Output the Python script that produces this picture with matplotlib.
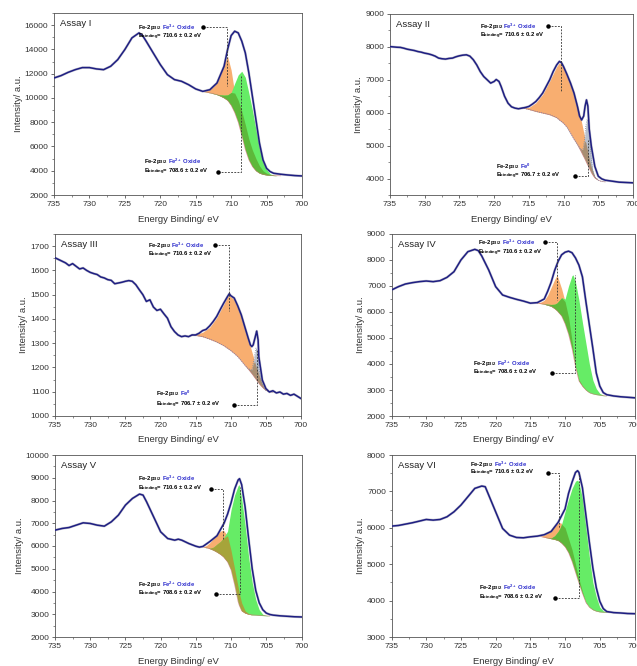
import numpy as np
import matplotlib.pyplot as plt
from matplotlib.ticker import AutoMinorLocator, MultipleLocator

plt.rcParams['font.family'] = ['Liberation Sans', 'DejaVu Sans']
plt.rcParams['mathtext.default'] = 'regular'

# ---------------- Assay I ----------------
a1_energy = [735, 734, 733, 732, 731, 730, 729, 728, 727, 726, 725, 724, 723, 722.5, 722, 721, 720,
             719, 718, 717, 716, 715, 714, 713, 712, 711, 710.5, 710, 709.5, 709, 708.5, 708, 707.5,
             707, 706.5, 706, 705.5, 705, 704.5, 704, 703, 702, 701, 700]
a1_counts = [11645, 11840, 12110, 12330, 12500, 12500, 12390, 12330, 12610, 13160, 13990, 14950, 15360,
             15140, 14680, 13710, 12750, 11920, 11510, 11370, 11090, 10740, 10540, 10680, 11230, 12610,
             13990, 15140, 15500, 15360, 14680, 13710, 12060, 10130, 8200, 6270, 4890, 4200, 3930, 3790,
             3710, 3650, 3600, 3570]
a1_fit_energy = [714, 713.5, 713, 712.5, 712, 711.5, 711, 710.5, 710, 709.5, 709, 708.5, 708, 707.5,
                 707, 706.5, 706, 705.5, 705, 704.5, 704, 703.5, 703]
a1_background = [10540, 10480, 10420, 10350, 10270, 10150, 10000, 9800, 9400, 8800, 8000, 6900, 5750,
                 4900, 4350, 4000, 3800, 3700, 3650, 3620, 3600, 3590, 3580]
a1_fe3 = [10540, 10600, 10720, 10950, 11300, 11900, 12800, 13430, 12300, 10400, 9800, 8900, 7800, 6600,
          5700, 5000, 4400, 4000, 3800, 3680, 3620, 3590, 3580]
a1_fe2 = [10540, 10490, 10430, 10370, 10300, 10250, 10230, 10250, 10450, 11200, 11900, 12200, 11700,
          10400, 9000, 7400, 5900, 4800, 4100, 3750, 3630, 3590, 3580]

# ---------------- Assay II ----------------
a2_energy = [735, 734.5, 734, 733.5, 733, 732.5, 732, 731.5, 731, 730.5, 730, 729.5, 729, 728.5, 728,
             727.5, 727, 726.5, 726, 725.5, 725, 724.5, 724, 723.5, 723, 722.5, 722, 721.5, 721, 720.5,
             720, 719.7, 719.3, 719, 718.5, 718, 717.5, 717, 716.5, 716, 715.5, 715, 714.5, 714, 713.5,
             713, 712.5, 712, 711.5, 711, 710.6, 710.3, 710, 709.5, 709, 708.5, 708, 707.7, 707.4,
             707.1, 706.9, 706.7, 706.5, 706.3, 706, 705.5, 705, 704.5, 704, 703, 702, 701, 700]
a2_counts = [8010, 8000, 7990, 7985, 7960, 7930, 7910, 7890, 7860, 7840, 7810, 7790, 7760, 7720, 7660,
             7640, 7630, 7650, 7660, 7700, 7730, 7750, 7760, 7720, 7610, 7450, 7250, 7100, 7000, 6900,
             6950, 7010, 6950, 6800, 6500, 6290, 6180, 6140, 6120, 6140, 6160, 6190, 6260, 6340, 6460,
             6600, 6800, 7000, 7250, 7450, 7560, 7520, 7400, 7160, 6900, 6600, 6190, 5900, 5780, 5900,
             6200, 6390, 6200, 5500, 4980, 4370, 4070, 3990, 3950, 3920, 3890, 3880, 3870]
a2_fit_energy = [716, 715, 714, 713, 712, 711, 710.6, 710, 709.5, 709, 708.5, 708, 707.5, 707.2, 707,
                 706.8, 706.6, 706.4, 706.2, 706, 705.8, 705.5, 705, 704.5, 704]
a2_background = [6150, 6100, 6040, 5990, 5940, 5850, 5780, 5680, 5560, 5380, 5200, 5030, 4830, 4700,
                 4620, 4530, 4440, 4360, 4270, 4180, 4110, 4020, 3950, 3910, 3900]
a2_fe3 = [6150, 6160, 6300, 6560, 6960, 7400, 7520, 7370, 7150, 6900, 6580, 6220, 5800, 5500, 5300,
          5100, 4900, 4700, 4500, 4350, 4230, 4050, 3950, 3910, 3900]
a2_fe0 = [6150, 6100, 6040, 5990, 5940, 5850, 5780, 5680, 5560, 5380, 5200, 5040, 4870, 4900, 5150,
          5600, 5800, 5650, 5150, 4600, 4250, 4060, 3950, 3910, 3900]

# ---------------- Assay III ----------------
a3_energy = [735, 734.5, 734, 733.5, 733, 732.5, 732, 731.5, 731, 730.5, 730, 729.5, 729, 728.5, 728,
             727.5, 727, 726.5, 726, 725.5, 725, 724.5, 724, 723.5, 723, 722.5, 722, 721.5, 721, 720.5,
             720, 719.5, 719, 718.5, 718, 717.5, 717, 716.5, 716, 715.5, 715, 714.5, 714, 713.5, 713,
             712.5, 712, 711.5, 711, 710.5, 710.2, 710, 709.5, 709, 708.5, 708, 707.5, 707.2, 707,
             706.8, 706.5, 706.3, 706.1, 706, 705.5, 705, 704.5, 704, 703.5, 703, 702.5, 702, 701.5,
             701, 700.5, 700]
a3_counts = [1652, 1645, 1638, 1631, 1620, 1628, 1617, 1606, 1610, 1600, 1592, 1587, 1583, 1573, 1569,
             1562, 1559, 1545, 1548, 1551, 1555, 1558, 1555, 1541, 1520, 1500, 1472, 1479, 1449, 1435,
             1440, 1421, 1403, 1368, 1348, 1334, 1327, 1330, 1327, 1334, 1334, 1341, 1352, 1357, 1371,
             1389, 1410, 1438, 1465, 1490, 1504, 1496, 1486, 1454, 1417, 1368, 1320, 1293, 1286, 1293,
             1327, 1350, 1313, 1244, 1148, 1113, 1099, 1104, 1095, 1099, 1090, 1093, 1085, 1090, 1081,
             1072]
a3_fit_energy = [715.5, 715, 714, 713, 712, 711, 710.5, 710.2, 710, 709.5, 709, 708.5, 708, 707.5, 707,
                 706.8, 706.6, 706.4, 706.2, 706, 705.7, 705.4, 705, 704.5, 704]
a3_background = [1333, 1332, 1327, 1317, 1305, 1290, 1280, 1274, 1270, 1258, 1245, 1228, 1210, 1193,
                 1175, 1167, 1159, 1151, 1143, 1135, 1125, 1116, 1106, 1100, 1098]
a3_fe3 = [1333, 1336, 1345, 1365, 1405, 1460, 1490, 1497, 1492, 1480, 1450, 1410, 1365, 1315, 1265,
          1245, 1225, 1205, 1190, 1170, 1148, 1130, 1110, 1100, 1098]
a3_fe0 = [1333, 1332, 1327, 1317, 1305, 1290, 1280, 1274, 1270, 1258, 1245, 1228, 1210, 1195, 1190,
          1215, 1250, 1280, 1260, 1200, 1150, 1122, 1106, 1100, 1098]

# ---------------- Assay IV ----------------
a4_energy = [735, 734, 733, 732, 731, 730, 729, 728, 727, 726, 725, 724, 723, 722.5, 722, 721, 720, 719,
             718, 717, 716, 715, 714, 713, 712.5, 712, 711.5, 711, 710.5, 710, 709.5, 709, 708.5, 708,
             707.5, 707, 706.5, 706, 705.5, 705, 704.5, 704, 703, 702, 701, 700]
a4_counts = [6846, 6975, 7077, 7128, 7167, 7192, 7167, 7205, 7333, 7551, 8000, 8320, 8410, 8360, 8154,
             7615, 6975, 6654, 6564, 6487, 6420, 6340, 6360, 6500, 6800, 7150, 7600, 7950, 8200, 8300,
             8340, 8280, 8080, 7800, 7350, 6400, 5500, 4600, 3650, 3150, 2900, 2820, 2770, 2740, 2720,
             2700]
a4_fit_energy = [714, 713.5, 713, 712.5, 712, 711.5, 711.15, 710.5, 710, 709.5, 709, 708.85, 708.5, 708,
                 707.5, 707, 706.5, 706, 705.5, 705, 704.5, 704]
a4_background = [6340, 6320, 6300, 6260, 6220, 6130, 6050, 5850, 5550, 5150, 4600, 4400, 3900, 3350,
                 3150, 3000, 2900, 2850, 2820, 2800, 2780, 2770]
a4_fe3 = [6340, 6380, 6450, 6650, 6950, 7250, 7420, 6900, 6400, 5800, 4900, 4600, 3950, 3400, 3170,
          3010, 2905, 2850, 2820, 2800, 2780, 2770]
a4_fe2 = [6340, 6320, 6310, 6300, 6290, 6300, 6350, 6550, 6500, 7000, 7400, 7430, 7150, 6450, 5600,
          4800, 4000, 3380, 3050, 2870, 2800, 2770]

# ---------------- Assay V ----------------
a5_energy = [735, 734, 733, 732, 731, 730, 729, 728, 727, 726, 725, 724, 723, 722.5, 722, 721, 720, 719,
             718, 717.5, 717, 716, 715, 714.5, 714, 713, 712, 711, 710.5, 710, 709.5, 709, 708.8, 708.5,
             708, 707.5, 707, 706.5, 706, 705.5, 705, 704.5, 704, 703, 702, 701, 700]
a5_counts = [6696, 6770, 6813, 6916, 7019, 6990, 6916, 6872, 7063, 7357, 7797, 8091, 8282, 8238, 7944,
             7283, 6623, 6329, 6256, 6300, 6256, 6109, 5990, 5950, 5980, 6200, 6450, 7000, 7400, 7900,
             8500, 8900, 8960, 8700, 7700, 6300, 5000, 4050, 3500, 3200, 3050, 2990, 2960, 2930, 2910,
             2890, 2880]
a5_fit_energy = [714, 713.5, 713, 712.5, 712, 711.5, 711.1, 710.5, 710, 709.5, 709, 708.85, 708.5, 708,
                 707.5, 707, 706.5, 706, 705.5, 705, 704.5]
a5_background = [5960, 5930, 5880, 5815, 5730, 5630, 5530, 5300, 4950, 4300, 3550, 3400, 3150, 3050,
                 3000, 2970, 2960, 2950, 2940, 2930, 2920]
a5_fe3 = [5960, 6020, 6150, 6330, 6500, 6650, 6700, 6450, 5800, 5000, 4200, 3950, 3500, 3150, 3020,
          2975, 2960, 2950, 2940, 2930, 2920]
a5_fe2 = [5960, 5920, 5900, 5950, 6080, 6200, 6340, 6650, 7600, 8240, 8650, 8700, 8100, 6900, 5500,
          4400, 3650, 3200, 3000, 2950, 2920]

# ---------------- Assay VI ----------------
a6_energy = [735, 734, 733, 732, 731, 730, 729, 728, 727, 726, 725, 724, 723, 722, 721.5, 721, 720, 719,
             718, 717, 716, 715, 714, 713, 712, 711, 710, 709.5, 709, 708.5, 708.2, 708, 707.5, 707,
             706.5, 706, 705.5, 705, 704.5, 704, 703, 702, 701, 700]
a6_counts = [6046, 6064, 6101, 6138, 6183, 6229, 6211, 6229, 6303, 6440, 6624, 6853, 7083, 7147, 7128,
             6899, 6440, 5982, 5798, 5734, 5725, 5752, 5771, 5810, 5900, 6150, 6520, 6945, 7250, 7520,
             7569, 7520, 7100, 6350, 5600, 4900, 4350, 3980, 3780, 3700, 3670, 3660, 3645, 3640]
a6_fit_energy = [713.5, 713, 712.5, 712, 711.5, 711, 710.7, 710.5, 710, 709.5, 709, 708.5, 708.2, 708,
                 707.5, 707, 706.5, 706, 705.5, 705, 704.5, 704, 703.5]
a6_background = [5760, 5740, 5720, 5700, 5680, 5650, 5610, 5580, 5480, 5320, 5080, 4780, 4600, 4480,
                 4200, 3950, 3820, 3750, 3710, 3690, 3680, 3680, 3675]
a6_fe3 = [5765, 5800, 5870, 5960, 6060, 6130, 6140, 6120, 6000, 5700, 5400, 5000, 4750, 4600, 4250,
          3960, 3825, 3755, 3712, 3692, 3681, 3680, 3675]
a6_fe2 = [5760, 5740, 5725, 5720, 5780, 5900, 6000, 6100, 6450, 6780, 7080, 7280, 7312, 7250, 6800,
          6000, 5200, 4500, 4100, 3820, 3720, 3690, 3680]

ORANGE = '#F8AE70'
GREEN = '#66EC66'
GRAY = '#B8C0CE'
NAVY = '#1E1E82'
BLUE_TXT = '#2A2ACC'

FE3 = 'Fe$^{3+}$ Oxide'
FE2 = 'Fe$^{2+}$ Oxide'
FE0 = 'Fe$^{0}$'

# annotation: (dot_x, dot_y, line_x, line_end_y, text_x, text_y1, text_y2, species, energy)
panels = [
    dict(title='Assay I', rect=[54, 13, 248, 182], ylim=(2000, 17000), ystep=2000,
         e=a1_energy, c=a1_counts, fe=a1_fit_energy, bg=a1_background, p1=a1_fe3, p2=a1_fe2,
         c2=GREEN, ov='#5DB83A',
         notes=[(714.0, 15830, 710.6, 11000, 723.1, 15830, 15000, FE3, '710.6'),
                (711.9, 3930, 708.6, 11900, 722.3, 4760, 3930, FE2, '708.6')]),
    dict(title='Assay II', rect=[390, 14, 243, 181], ylim=(3500, 9000), ystep=1000,
         e=a2_energy, c=a2_counts, fe=a2_fit_energy, bg=a2_background, p1=a2_fe3, p2=a2_fe0,
         c2=GRAY, ov='#A88E72',
         notes=[(712.2, 8640, 710.4, 6650, 722.1, 8620, 8330, FE3, '710.6'),
                (708.4, 4070, 706.5, 5180, 719.7, 4370, 4070, FE0, '706.7')]),
    dict(title='Assay III', rect=[55, 234, 246, 182], ylim=(1000, 1750), ystep=100,
         e=a3_energy, c=a3_counts, fe=a3_fit_energy, bg=a3_background, p1=a3_fe3, p2=a3_fe0,
         c2=GRAY, ov='#A88E72',
         notes=[(712.2, 1703, 710.2, 1431, 721.8, 1703, 1665, FE3, '710.6'),
                (709.5, 1047, 706.3, 1272, 720.6, 1092, 1047, FE0, '706.7')]),
    dict(title='Assay IV', rect=[391.5, 234, 243, 182], ylim=(2000, 9000), ystep=1000,
         e=a4_energy, c=a4_counts, fe=a4_fit_energy, bg=a4_background, p1=a4_fe3, p2=a4_fe2,
         c2=GREEN, ov='#5DB83A',
         notes=[(712.9, 8705, 711.1, 6460, 722.5, 8667, 8280, FE3, '710.6'),
                (711.9, 3667, 708.6, 7423, 723.2, 4026, 3641, FE2, '708.6')]),
    dict(title='Assay V', rect=[55, 455, 246.5, 182], ylim=(2000, 10000), ystep=1000,
         e=a5_energy, c=a5_counts, fe=a5_fit_energy, bg=a5_background, p1=a5_fe3, p2=a5_fe2,
         c2=GREEN, ov='#A6A43A',
         notes=[(712.9, 8488, 711.2, 6329, 723.2, 8972, 8488, FE3, '710.6'),
                (712.2, 3877, 708.8, 8600, 723.2, 4317, 3877, FE2, '708.6')]),
    dict(title='Assay VI', rect=[391.5, 455, 243, 182], ylim=(3000, 8000), ystep=1000,
         e=a6_energy, c=a6_counts, fe=a6_fit_energy, bg=a6_background, p1=a6_fe3, p2=a6_fe2,
         c2=GREEN, ov='#5DB83A',
         notes=[(712.5, 7495, 710.9, 5982, 723.7, 7752, 7495, FE3, '710.6'),
                (711.4, 4073, 708.0, 7495, 722.4, 4358, 4083, FE2, '708.6')]),
]

W, H = 637, 666
fig = plt.figure(figsize=(W / 100, H / 100), dpi=100)


def add_note(ax, dot_x, dot_y, line_x, end_y, tx, ty1, ty2, species, energy):
    fs = 4.2
    ax.plot([dot_x, line_x, line_x], [dot_y, dot_y, end_y], color='#333333', lw=0.6,
            ls=(0, (2.2, 1.6)), zorder=6)
    ax.plot(dot_x, dot_y, 'o', ms=2.2, color='black', zorder=7)
    t = ax.text(tx, ty1, 'Fe-2p$_{3/2}$ ', fontsize=fs, fontweight='bold', va='center',
                zorder=8)
    ax.annotate(species, xy=(1, 0), xycoords=t, fontsize=fs, fontweight='bold',
                color=BLUE_TXT, va='bottom', ha='left', zorder=8)
    ax.text(tx, ty2, 'E$_{binding}$= ' + energy + ' \u00b1 0.2 eV', fontsize=fs,
            fontweight='bold', va='center', zorder=8)


for p in panels:
    x0, y0, w, h = p['rect']
    ax = fig.add_axes([x0 / W, 1 - (y0 + h) / H, w / W, h / H])

    fe = np.array(p['fe'])
    bg = np.array(p['bg'])
    p1 = np.array(p['p1'])
    p2 = np.array(p['p2'])

    ax.fill_between(fe, bg, p1, color=ORANGE, lw=0, zorder=2)
    ax.fill_between(fe, bg, p2, color=p['c2'], lw=0, zorder=2)
    ax.fill_between(fe, bg, np.minimum(p1, p2), color=p['ov'], lw=0, zorder=3)
    ax.plot(fe, bg, color='#C87070', lw=0.5, alpha=0.7, zorder=3)
    if p['c2'] == GRAY:
        ax.plot(fe, p2, color='#7888A0', lw=0.6, ls=':', zorder=3)

    ax.plot(p['e'], p['c'], color='#8A8AA0', lw=1.8, alpha=0.5, zorder=4)
    ax.plot(p['e'], p['c'], color=NAVY, lw=1.1, zorder=5)

    for n in p['notes']:
        add_note(ax, *n)

    ax.set_xlim(735, 700)
    ax.set_ylim(*p['ylim'])
    ax.xaxis.set_major_locator(MultipleLocator(5))
    ax.yaxis.set_major_locator(MultipleLocator(p['ystep']))
    ax.xaxis.set_minor_locator(AutoMinorLocator(2))
    ax.yaxis.set_minor_locator(AutoMinorLocator(2))
    ax.tick_params(which='major', direction='out', length=2.5, width=0.5, labelsize=6,
                   pad=1.5, colors='#333333')
    ax.tick_params(which='minor', direction='out', length=1.5, width=0.4, colors='#333333')
    for s in ax.spines.values():
        s.set_linewidth(0.6)
        s.set_color('#555555')

    ax.set_xlabel('Energy Binding/ eV', fontsize=6.8, labelpad=5, color='#333333')
    ax.set_ylabel('Intensity/ a.u.', fontsize=6.8, labelpad=1.5, color='#333333')
    ax.text(0.025, 0.965, p['title'], transform=ax.transAxes, fontsize=6.8, va='top',
            ha='left', color='#222222', zorder=9)

fig.savefig('out.png', dpi=100)
